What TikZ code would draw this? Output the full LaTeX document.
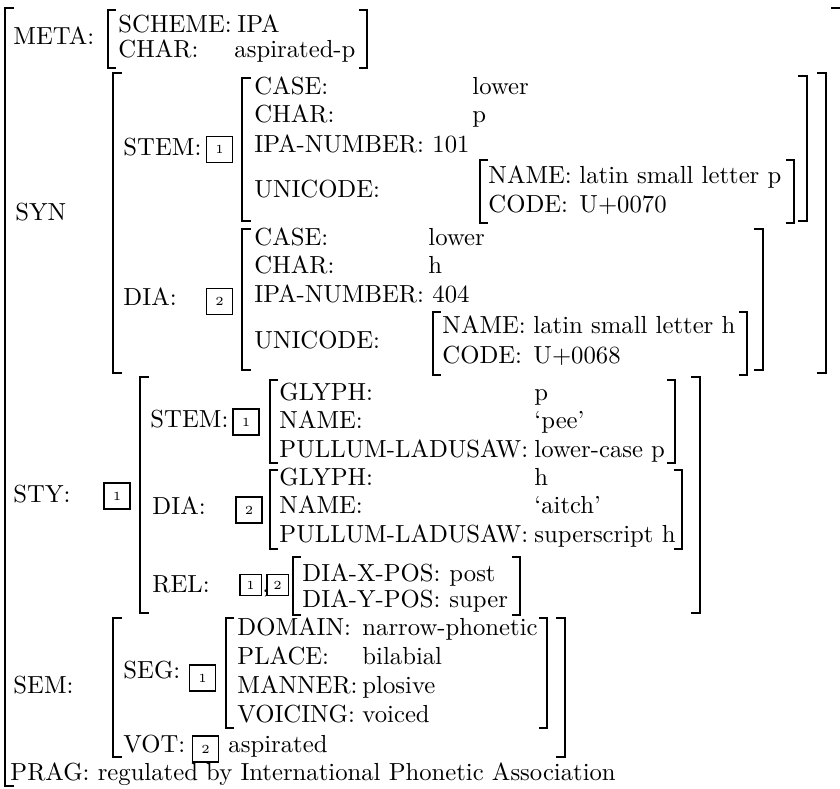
\documentclass[tikz,border=0pt]{standalone}
\usepackage{tikz}
\tikzset{%
  lbl/.style    = {anchor=base west, inner sep=0pt}, % attribute / value text
  tag/.style    = {draw, line width=0.5pt, rectangle, inner sep=0pt,
    minimum size=10.5pt, font=\tiny}, % boxed index
  smalltag/.style = {tag, minimum size=8.6pt},
  brk/.style    = {line width=0.6pt, line cap=rect},
  bigbrk/.style = {line width=1.1pt, line cap=rect}
}

\begin{document}
\begin{tikzpicture}[x=0.405pt, y=-0.405pt]
\useasboundingbox (0,0) rectangle (840,789);
\draw
    node at(13,44)[lbl,name=meta]{META:}
    node at(15,220)[lbl,name=syn]{SYN}
    node at(13,502)[lbl,name=sty]{STY:}
    node at(13,693)[lbl,name=sem]{SEM:}
    node at(10,780)[lbl,name=prag]{PRAG: regulated by International Phonetic Association}

    node at(118,32)[lbl,name=scheme]{SCHEME:}
    node at(237,32)[lbl,name=ipa]{IPA}
    node at(118,57)[lbl,name=mchar]{CHAR:}
    node at(234,57)[lbl,name=asp]{aspirated-p}
;

% SYN
\draw
    node at(123,155)[lbl,name=synstem]{STEM:}
    node at(219.5,149.5)[tag,name=synstemtag]{1}
    node at(254,94)[lbl,name=stemcase]{CASE:}
    node at(472,94)[lbl,name=stemlower]{lower}
    node at(254,123)[lbl,name=stemchar]{CHAR:}
    node at(472,123)[lbl,name=stemp]{p}
    node at(254,152)[lbl,name=stemipa]{IPA-NUMBER:}
    node at(432,152)[lbl,name=stemnum]{101}
    node at(254,197)[lbl,name=stemuni]{UNICODE:}
    node at(488,183)[lbl,name=pname]{NAME:}
    node at(579,183)[lbl,name=pnameval]{latin small letter p}
    node at(488,212)[lbl,name=pcode]{CODE:}
    node at(579,212)[lbl,name=pcodeval]{U+0070}

    node at(123,305)[lbl,name=syndia]{DIA:}
    node at(219.5,301.5)[tag,name=syndiatag]{2}
    node at(254,245)[lbl,name=diacase]{CASE:}
    node at(428,245)[lbl,name=dialower]{lower}
    node at(254,273)[lbl,name=diachar]{CHAR:}
    node at(428,273)[lbl,name=diah]{h}
    node at(254,302)[lbl,name=diaipa]{IPA-NUMBER:}
    node at(432,302)[lbl,name=dianum]{404}
    node at(254,348)[lbl,name=diauni]{UNICODE:}
    node at(442,333)[lbl,name=hname]{NAME:}
    node at(533,333)[lbl,name=hnameval]{latin small letter h}
    node at(442,363)[lbl,name=hcode]{CODE:}
    node at(533,363)[lbl,name=hcodeval]{U+0068}
;

% STY
\draw
    node at(117,496)[tag,name=stytag]{1}
    node at(150,427)[lbl,name=stystem]{STEM:}
    node at(246,422)[tag,name=stystemtag]{1}
    node at(279,400)[lbl,name=pglyph]{GLYPH:}
    node at(534,400)[lbl,name=pglyphval]{p}
    node at(279,428)[lbl,name=psay]{NAME:}
    node at(534,428)[lbl,name=psayval]{`pee'}
    node at(279,457)[lbl,name=ppl]{PULLUM-LADUSAW:}
    node at(534,457)[lbl,name=pplval]{lower-case p}

    node at(152,514)[lbl,name=stydia]{DIA:}
    node at(249,510)[tag,name=stydiatag]{2}
    node at(279,485)[lbl,name=hglyph]{GLYPH:}
    node at(534,485)[lbl,name=hglyphval]{h}
    node at(279,513)[lbl,name=hsay]{NAME:}
    node at(534,513)[lbl,name=hsayval]{`aitch'}
    node at(279,542)[lbl,name=hpl]{PULLUM-LADUSAW:}
    node at(534,542)[lbl,name=hplval]{superscript h}

    node at(152,592)[lbl,name=rel]{REL:}
    node at(250.5,585)[smalltag,name=reltaga]{1}
    node at(262,592)[lbl,name=relcomma]{,}
    node at(277.5,585)[smalltag,name=reltagb]{2}
    node at(302,581)[lbl,name=xpos]{DIA-X-POS:}
    node at(449,581)[lbl,name=xposval]{post}
    node at(302,607)[lbl,name=ypos]{DIA-Y-POS:}
    node at(449,607)[lbl,name=yposval]{super}
;

% SEM
\draw
    node at(123,678)[lbl,name=seg]{SEG:}
    node at(202.5,678)[tag,name=segtag]{1}
    node at(237,635)[lbl,name=domain]{DOMAIN:}
    node at(362,635)[lbl,name=domainval]{narrow-phonetic}
    node at(237,664)[lbl,name=place]{PLACE:}
    node at(362,664)[lbl,name=placeval]{bilabial}
    node at(237,693)[lbl,name=manner]{MANNER:}
    node at(362,693)[lbl,name=mannerval]{plosive}
    node at(237,722)[lbl,name=voicing]{VOICING:}
    node at(362,722)[lbl,name=voicingval]{voiced}
    node at(123,752)[lbl,name=vot]{VOT:}
    node at(205.5,749)[tag,name=vottag]{2}
    node at(228,752)[lbl,name=votval]{aspirated}
;

% brackets
\draw[bigbrk] (13,8) -| (5,786) -- (13,786);
\draw[bigbrk] (832,8) -- (840,8);
\draw[brk] (115,10) -| (108,68) -- (115,68);
\draw[brk] (360,10) -| (367,68) -- (360,68);
\draw[bigbrk] (121,73) -| (113,373) -- (121,373);
\draw[bigbrk] (818,73) -| (826,373) -- (818,373);
\draw[bigbrk] (250,78) -| (242,221) -- (250,221);
\draw[bigbrk] (799,76) -| (807,221) -- (799,221);
\draw[brk] (487,160) -| (480,223) -- (487,223);
\draw[brk] (787,160) -| (794,223) -- (787,223);
\draw[bigbrk] (250,229) -| (242,370) -- (250,370);
\draw[bigbrk] (755,229) -| (763,370) -- (755,370);
\draw[brk] (440,312) -| (433,375) -- (440,375);
\draw[brk] (740,312) -| (747,375) -- (740,375);
\draw[bigbrk] (148,377) -| (140,613) -- (148,613);
\draw[bigbrk] (692,377) -| (700,613) -- (692,613);
\draw[brk] (277,380) -| (270,463) -- (277,463);
\draw[brk] (668,380) -| (675,463) -- (668,463);
\draw[brk] (277,470) -| (270,549) -- (277,549);
\draw[brk] (675,470) -| (682,549) -- (675,549);
\draw[brk] (300,557) -| (293,615) -- (300,615);
\draw[brk] (513,557) -| (520,615) -- (513,615);
\draw[bigbrk] (121,618) -| (113,757) -- (121,757);
\draw[bigbrk] (557,618) -| (565,757) -- (557,757);
\draw[brk] (233,618) -| (226,728) -- (233,728);
\draw[brk] (540,618) -| (547,728) -- (540,728);
\end{tikzpicture}
\end{document}
